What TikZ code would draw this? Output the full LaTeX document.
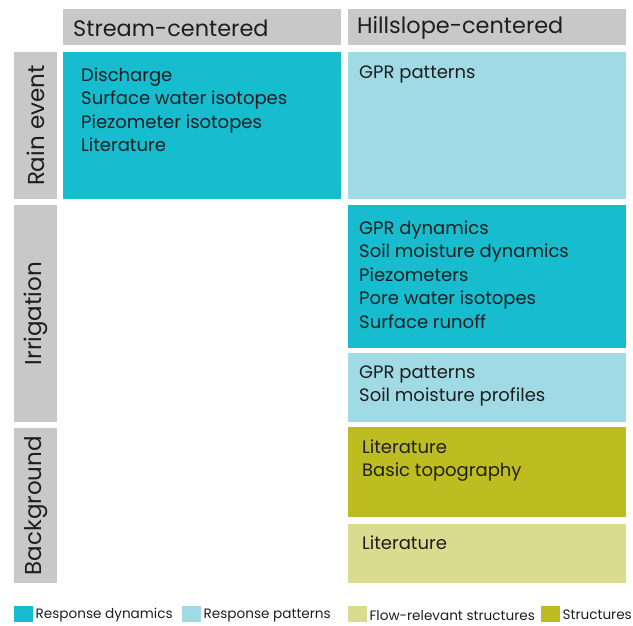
\documentclass[tikz,border=0pt]{standalone}
\usepackage{fontspec}
\setmainfont{Poppins}
\usetikzlibrary{positioning}
\definecolor{hdrgray}{HTML}{C8C8C8}
\definecolor{dyncol}{HTML}{17BCCF}
\definecolor{patcol}{HTML}{9FDAE5}
\definecolor{flowcol}{HTML}{DADB8E}
\definecolor{strcol}{HTML}{BDBD22}
\definecolor{inkcol}{HTML}{1E1E1E}
\tikzset{
  cell/.style={rectangle, inner sep=0pt, anchor=north west},
  hdr/.style={cell, fill=hdrgray, minimum width=278pt, minimum height=36pt},
  rowlab/.style={cell, fill=hdrgray, minimum width=43pt},
  box/.style={cell, minimum width=278pt},
  hdrtxt/.style={anchor=west, inner sep=0pt, font=\fontsize{22.4}{26}\selectfont, text=inkcol},
  rowtxt/.style={rotate=90, inner sep=0pt, font=\fontsize{23}{26}\selectfont, text=inkcol},
  bodytxt/.style={anchor=north west, inner sep=0pt, align=left, font=\fontsize{18}{23.5}\selectfont, text=inkcol},
  legbox/.style={cell, minimum width=19pt, minimum height=16pt},
  legtxt/.style={anchor=west, inner sep=0pt, font=\fontsize{13.6}{16}\selectfont, text=inkcol}
}
\begin{document}
\begin{tikzpicture}[x=1pt, y=-1pt]
  \useasboundingbox (0,0) rectangle (633,625);
  % Column headers
  \node[hdr] (hstream) at (63,9) {};
  \node[hdr] (hhill) at (348,9) {};
  \node[hdrtxt] (hstreamtxt) at ([xshift=10pt,yshift=-1pt]hstream.west) {Stream-centered};
  \node[hdrtxt] (hhilltxt) at ([xshift=9pt,yshift=-1pt]hhill.west) {Hillslope-centered};
  % Row labels
  \node[rowlab, minimum height=147pt] (lrain) at (14,52) {};
  \node[rowlab, minimum height=217pt] (lirr) at (14,205) {};
  \node[rowlab, minimum height=155pt] (lback) at (14,428) {};
  \node[rowtxt] (lraintxt) at (lrain.center) {Rain event};
  \node[rowtxt] (lirrtxt) at (lirr.center) {Irrigation};
  \node[rowtxt] (lbacktxt) at (lback.center) {Background};
  % Rain event
  \node[box, fill=dyncol, minimum height=147pt] (rainS) at (63,52) {};
  \node[box, fill=patcol, minimum height=147pt] (rainH) at (348,52) {};
  \node[bodytxt] (rainStxt) at ([shift={(18pt,-15.5pt)}]rainS.north west)
    {Discharge\\Surface water isotopes\\Piezometer isotopes\\Literature};
  \node[bodytxt] (rainHtxt) at ([shift={(11pt,-13.5pt)}]rainH.north west) {GPR patterns};
  % Irrigation
  \node[box, fill=dyncol, minimum height=143pt] (irrDyn) at (348,205) {};
  \node[box, fill=patcol, minimum height=69pt] (irrPat) at (348,353) {};
  \node[bodytxt] (irrDyntxt) at ([shift={(11pt,-15.5pt)}]irrDyn.north west)
    {GPR dynamics\\Soil moisture dynamics\\Piezometers\\Pore water isotopes\\Surface runoff};
  \node[bodytxt] (irrPattxt) at ([shift={(11pt,-12.5pt)}]irrPat.north west)
    {GPR patterns\\Soil moisture profiles};
  % Background
  \node[box, fill=strcol, minimum height=90pt] (backStr) at (348,427) {};
  \node[box, fill=flowcol, minimum height=59pt] (backFlow) at (348,524) {};
  \node[bodytxt] (backStrtxt) at ([shift={(14pt,-12.5pt)}]backStr.north west)
    {Literature\\Basic topography};
  \node[bodytxt] (backFlowtxt) at ([shift={(14pt,-11.5pt)}]backFlow.north west) {Literature};
  % Legend
  \node[legbox, fill=dyncol] (kdyn) at (14,606) {};
  \node[legtxt] (kdyntxt) at ([xshift=2pt,yshift=-1pt]kdyn.east) {Response dynamics};
  \node[legbox, fill=patcol] (kpat) at (182,606) {};
  \node[legtxt] (kpattxt) at ([xshift=2pt,yshift=-1pt]kpat.east) {Response patterns};
  \node[legbox, fill=flowcol] (kflow) at (348,606) {};
  \node[legtxt] (kflowtxt) at ([xshift=2pt,yshift=-1pt]kflow.east) {Flow-relevant structures};
  \node[legbox, fill=strcol] (kstr) at (541,606) {};
  \node[legtxt] (kstrtxt) at ([xshift=2pt,yshift=-1pt]kstr.east) {Structures};
\end{tikzpicture}
\end{document}
